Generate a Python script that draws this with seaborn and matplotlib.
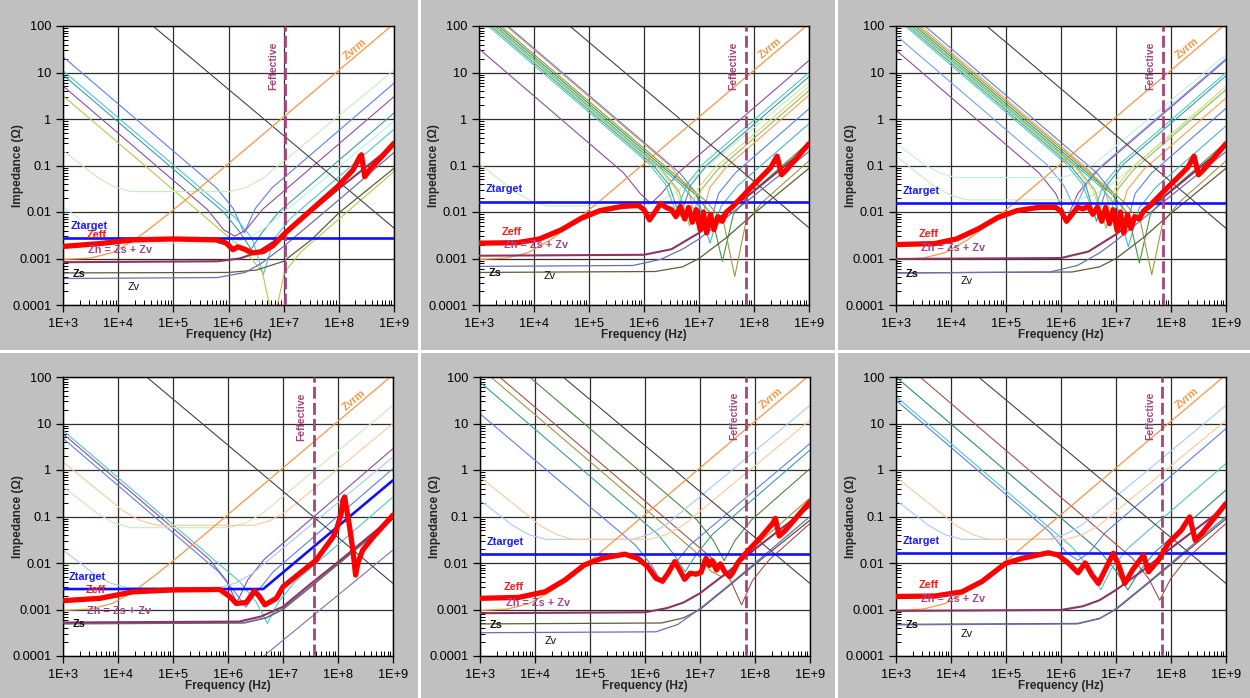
import numpy as np
import pandas as pd
import matplotlib
matplotlib.use("Agg")
import matplotlib.pyplot as plt
from matplotlib.ticker import FixedLocator, FixedFormatter, LogLocator, NullFormatter
from matplotlib.patches import Rectangle
import seaborn as sns

# ------------------------------------------------------------------ text
X_TICKS = [1e3, 1e4, 1e5, 1e6, 1e7, 1e8, 1e9]
X_LABELS = ["1E+3", "1E+4", "1E+5", "1E+6", "1E+7", "1E+8", "1E+9"]
Y_TICKS = [1e-4, 1e-3, 1e-2, 1e-1, 1, 10, 100]
Y_LABELS = ["0.0001", "0.001", "0.01", "0.1", "1", "10", "100"]
X_TITLE = "Frequency (Hz)"
Y_TITLE = "Impedance (\u03a9)"

# ------------------------------------------------------------------ data
# every curve: ([log10 f], [log10 |Z|])
ZVRM = ([3, 3.5, 3.9, 4.3, 4.7, 5.2, 9], [-3.02, -2.99, -2.87, -2.6, -2.24, -1.76, 2.05])

# ---- panel 1 (top left)
P1_TARGET = ([3, 9], [-2.56, -2.56])
P1_FEFF = 7.03
P1_BLACK = ([4.63, 9], [2.0, -2.345])
P1_ZEFF = ([3, 3.66, 4.27, 4.99, 5.78, 5.96, 6.08, 6.17, 6.29, 6.44, 6.63, 6.81, 7.03, 7.98, 8.26, 8.38, 8.41, 8.47, 8.56, 9],
           [-2.74, -2.68, -2.6, -2.58, -2.6, -2.67, -2.81, -2.75, -2.8, -2.88, -2.85, -2.72, -2.45, -1.45, -1.09, -0.81, -0.77, -1.24, -1.09, -0.52])
P1_ZH = ([3, 5.8, 6.2, 6.5, 6.8, 7.02, 8, 9], [-3.08, -3.06, -3.0, -2.88, -2.65, -2.47, -1.5, -0.55])
P1_ZS = ([3, 6.0, 6.5, 7.0, 7.5, 8, 9], [-3.31, -3.3, -3.25, -3.06, -2.6, -2.02, -1.06])
P1_ZV = ([3, 5.8, 6.3, 6.6, 7.0, 8, 9], [-3.43, -3.41, -3.3, -3.1, -2.74, -1.74, -0.72])
P1_CAPS = {
    "blue": ([3, 5.785, 6.085, 6.285, 6.485, 6.785, 9], [1.34, -1.485, -1.925, -2.45, -1.925, -1.485, 0.77]),
    "teal": ([3, 5.91, 6.21, 6.41, 6.61, 6.91, 9], [0.95, -2.0, -2.44, -2.8, -2.44, -2.0, 0.13]),
    "cyan": ([3, 6.13, 6.43, 6.63, 6.83, 7.13, 9], [1.04, -2.13, -2.57, -3.35, -2.57, -2.13, -0.22]),
    "purple": ([3, 5.615, 5.915, 6.115, 6.315, 6.615, 9], [0.71, -1.945, -2.385, -2.52, -2.385, -1.945, 0.48]),
    "ygreen": ([3, 6.315, 6.615, 6.815, 7.015, 7.315, 9], [0.5, -2.855, -3.295, -4.4, -3.295, -2.855, -1.13]),
    "lgreen": ([3, 3.63, 3.93, 4.23, 6.04, 6.34, 6.64, 9], [-0.68, -1.26, -1.46, -1.56, -1.56, -1.46, -1.26, 1.05]),
    "lcyan": ([3, 3.54, 3.84, 4.14, 6.03, 6.33, 6.63, 9], [-1.88, -2.37, -2.57, -2.67, -2.67, -2.57, -2.37, -0.05]),
}

# ---- panel 2 (top middle)
P2_TARGET = ([3, 9], [-1.78, -1.78])
P2_FEFF = 7.85
P2_BLACK = ([4.65, 9], [2.0, -2.34])
P2_ZEFF = ([3, 3.7, 4.1, 4.5, 4.85, 5.2, 5.6, 5.9, 6.0, 6.1, 6.2, 6.3, 6.4, 6.5, 6.58, 6.66, 6.74, 6.81, 6.88, 6.95,
            7.02, 7.08, 7.14, 7.21, 7.27, 7.34, 7.42, 7.5, 7.6, 7.9, 8.3, 8.42, 8.5, 8.6, 9],
           [-2.67, -2.66, -2.58, -2.38, -2.14, -1.97, -1.88, -1.86, -1.95, -2.17, -2.0, -1.82, -1.9, -1.95, -2.1, -1.88,
            -2.15, -1.9, -2.22, -1.95, -2.38, -2.0, -2.45, -2.05, -2.38, -2.1, -2.2, -2.0, -1.9, -1.53, -1.05, -0.8, -1.2,
            -1.08, -0.53])
P2_ZH = ([3, 6.0, 6.5, 7.0, 7.5, 8, 9], [-2.94, -2.92, -2.8, -2.45, -2.0, -1.55, -0.58])
P2_ZS = ([3, 6.2, 6.7, 7.0, 7.5, 8, 9], [-3.3, -3.28, -3.18, -3.0, -2.55, -2.03, -1.06])
P2_ZV = ([3, 5.8, 6.3, 6.7, 7.0, 8, 9], [-3.17, -3.15, -3.02, -2.8, -2.58, -1.65, -0.7])
P2_CAPS = {
    "purple": ([3, 5.625, 5.925, 6.125, 6.325, 6.625, 9], [1.51, -1.155, -1.595, -1.82, -1.595, -1.155, 1.26]),
    "lgreen": ([3, 3.66, 3.96, 4.26, 5.99, 6.29, 6.59, 9], [-0.96, -1.57, -1.77, -1.87, -1.87, -1.77, -1.57, 0.79]),
    "cyan": ([3, 6.085, 6.385, 6.585, 6.785, 7.085, 9], [2.17, -0.955, -1.395, -2.0, -1.395, -0.955, 1.0]),
    "teal": ([3, 6.155, 6.455, 6.655, 6.855, 7.155, 9], [2.22, -0.975, -1.415, -2.1, -1.415, -0.975, 0.91]),
    "olivegreen": ([3, 6.33, 6.63, 6.83, 7.03, 7.33, 9], [2.27, -1.1, -1.54, -2.3, -1.54, -1.1, 0.61]),
    "orange": ([3, 6.495, 6.795, 6.995, 7.195, 7.495, 9], [2.5, -1.035, -1.475, -2.4, -1.475, -1.035, 0.51]),
    "blue": ([3, 6.655, 6.955, 7.155, 7.355, 7.655, 9], [2.53, -1.165, -1.605, -2.45, -1.605, -1.165, 0.22]),
    "cyan2": ([3, 6.7, 7.0, 7.2, 7.4, 7.7, 9], [2.3, -1.44, -1.88, -2.67, -1.88, -1.44, -0.1]),
    "green": ([3, 6.925, 7.225, 7.425, 7.625, 7.925, 9], [2.35, -1.615, -2.055, -3.06, -2.055, -1.615, -0.5]),
    "olive": ([3, 7.15, 7.45, 7.65, 7.85, 8.15, 9], [2.4, -1.79, -2.23, -3.39, -2.23, -1.79, -0.9]),
    "yellow": ([3, 6.275, 6.575, 6.775, 6.975, 7.275, 9], [2.25, -1.065, -1.505, -2.2, -1.505, -1.065, 0.7]),
}

# ---- panel 3 (top right)
P3_TARGET = ([3, 9], [-1.81, -1.81])
P3_FEFF = 7.85
P3_BLACK = ([4.65, 9], [2.0, -2.35])
P3_ZEFF = ([3, 3.7, 4.1, 4.5, 4.85, 5.2, 5.6, 5.9, 6.0, 6.1, 6.2, 6.3, 6.4, 6.5, 6.58, 6.66, 6.74, 6.81, 6.88, 6.95,
            7.02, 7.08, 7.14, 7.21, 7.27, 7.34, 7.42, 7.5, 7.6, 7.9, 8.3, 8.42, 8.5, 8.6, 9],
           [-2.7, -2.68, -2.58, -2.36, -2.12, -1.97, -1.9, -1.9, -1.98, -2.2, -2.05, -1.9, -1.93, -1.88, -2.05, -1.9,
            -2.2, -1.9, -2.25, -1.95, -2.4, -2.0, -2.45, -2.05, -2.35, -2.1, -2.15, -1.98, -1.88, -1.52, -1.05, -0.8,
            -1.2, -1.08, -0.53])
P3_ZH = ([3, 6.0, 6.5, 7.0, 7.5, 8, 9], [-3.01, -2.99, -2.85, -2.48, -2.02, -1.55, -0.58])
P3_ZS = ([3, 6.2, 6.7, 7.0, 7.5, 8, 9], [-3.31, -3.29, -3.18, -3.0, -2.55, -2.03, -1.06])
P3_ZV = ([3, 5.8, 6.3, 6.7, 7.0, 8, 9], [-3.31, -3.29, -3.15, -2.88, -2.62, -1.65, -0.7])
P3_CAPS = {
    "purple": ([3, 5.605, 5.905, 6.105, 6.305, 6.605, 9], [1.48, -1.165, -1.605, -2.14, -1.605, -1.165, 1.27]),
    "blue2": ([3, 5.75, 6.05, 6.25, 6.45, 6.75, 9], [1.8, -0.99, -1.43, -1.92, -1.43, -0.99, 1.3]),
    "lcyan": ([3, 3.49, 3.79, 4.09, 6.01, 6.31, 6.61, 9], [-0.52, -0.96, -1.16, -1.26, -1.26, -1.16, -0.96, 1.38]),
    "lgreen": ([3, 3.69, 3.99, 4.29, 6.28, 6.58, 6.88, 9], [-0.8, -1.44, -1.64, -1.74, -1.74, -1.64, -1.44, 0.63]),
    "cyan": ([3, 6.085, 6.385, 6.585, 6.785, 7.085, 9], [2.17, -0.955, -1.395, -2.0, -1.395, -0.955, 1.0]),
    "teal": ([3, 6.145, 6.445, 6.645, 6.845, 7.145, 9], [2.22, -0.965, -1.405, -2.2, -1.405, -0.965, 0.93]),
    "olivegreen": ([3, 6.32, 6.62, 6.82, 7.02, 7.32, 9], [2.27, -1.09, -1.53, -2.35, -1.53, -1.09, 0.63]),
    "orange": ([3, 6.5, 6.8, 7.0, 7.2, 7.5, 9], [2.45, -1.09, -1.53, -2.4, -1.53, -1.09, 0.45]),
    "blue": ([3, 6.65, 6.95, 7.15, 7.35, 7.65, 9], [2.53, -1.16, -1.6, -2.45, -1.6, -1.16, 0.23]),
    "cyan2": ([3, 6.725, 7.025, 7.225, 7.425, 7.725, 9], [2.3, -1.465, -1.905, -2.75, -1.905, -1.465, -0.15]),
    "green": ([3, 6.925, 7.225, 7.425, 7.625, 7.925, 9], [2.35, -1.615, -2.055, -3.1, -2.055, -1.615, -0.5]),
    "olive": ([3, 7.15, 7.45, 7.65, 7.85, 8.15, 9], [2.4, -1.79, -2.23, -3.35, -2.23, -1.79, -0.9]),
    "yellow": ([3, 6.275, 6.575, 6.775, 6.975, 7.275, 9], [2.25, -1.065, -1.505, -2.2, -1.505, -1.065, 0.7]),
}

# ---- panel 4 (bottom left)
P4_TARGET = ([3, 6.64, 9], [-2.56, -2.56, -0.22])
P4_FEFF = 7.56
P4_BLACK = ([4.52, 9], [2.0, -2.44])
P4_ZEFF = ([3, 3.67, 4.27, 5, 5.85, 6.03, 6.15, 6.33, 6.48, 6.57, 6.67, 6.88, 7, 7.6, 7.91, 7.97, 8.06, 8.09, 8.12,
            8.15, 8.21, 8.27, 8.32, 8.36, 8.45, 8.64, 9],
           [-2.81, -2.76, -2.62, -2.58, -2.57, -2.72, -2.87, -2.85, -2.6, -2.72, -2.9, -2.76, -2.51, -1.94, -1.44,
            -1.29, -0.93, -0.65, -0.58, -0.79, -1.22, -1.72, -2.26, -2.0, -1.72, -1.44, -0.97])
P4_ZH = ([3, 6.2, 6.6, 7.0, 7.5, 8, 9], [-3.28, -3.26, -3.15, -2.94, -2.45, -1.98, -1.0])
P4_ZS = ([3, 6.3, 6.7, 7.0, 7.5, 8, 9], [-3.31, -3.29, -3.18, -3.0, -2.52, -2.03, -1.05])
P4_ZV = ([3, 6.3, 6.7, 7.0, 7.5, 8, 9], [-3.3, -3.28, -3.17, -2.98, -2.5, -2.0, -1.02])
P4_CAPS = {
    "cyan": ([3, 6.215, 6.515, 6.715, 6.915, 7.215, 9], [0.85, -2.405, -2.845, -3.3, -2.845, -2.405, -0.58]),
    "purple": ([3, 5.66, 5.96, 6.16, 6.36, 6.66, 9], [0.78, -1.92, -2.36, -2.85, -2.36, -1.92, 0.46]),
    "blue": ([3, 5.825, 6.125, 6.325, 6.525, 6.825, 9], [0.68, -2.185, -2.625, -2.95, -2.625, -2.185, 0.03]),
    "lblue": ([3, 3.56, 3.86, 4.16, 5.84, 6.14, 6.44, 9], [-1.72, -2.23, -2.43, -2.53, -2.53, -2.43, -2.23, 0.28]),
    "lgreen": ([3, 3.63, 3.93, 4.23, 6.02, 6.32, 6.62, 9], [-0.36, -0.94, -1.14, -1.24, -1.24, -1.14, -0.94, 1.39]),
    "lorange": ([3, 4.11, 4.41, 4.71, 6.46, 6.76, 7.06, 9], [0.17, -0.89, -1.09, -1.19, -1.19, -1.09, -0.89, 1.0]),
    "slate": ([6.6, 9], [-4.05, -1.72]),
}

# ---- panel 5 (bottom middle)
P5_TARGET = ([3, 9], [-1.81, -1.81])
P5_FEFF = 7.84
P5_BLACK = ([4.51, 9], [2.0, -2.44])
P5_ZEFF = ([3, 3.7, 4.18, 4.54, 4.9, 5.21, 5.63, 5.87, 6.05, 6.2, 6.32, 6.42, 6.54, 6.63, 6.72, 6.82, 6.93, 7.02, 7.11,
            7.17, 7.22, 7.3, 7.37, 7.45, 7.54, 7.6, 7.69, 7.84, 8.11, 8.32, 8.37, 8.44, 8.55, 9],
           [-2.76, -2.74, -2.62, -2.37, -2.04, -1.9, -1.81, -1.9, -2.08, -2.33, -2.39, -2.22, -1.97, -2.15, -2.35, -2.22,
            -2.24, -2.2, -1.9, -2.05, -1.95, -2.15, -2.02, -2.19, -2.29, -2.2, -1.99, -1.78, -1.44, -1.15, -1.04, -1.42,
            -1.3, -0.68])
P5_ZH = ([3, 6.0, 6.4, 6.7, 7.0, 7.5, 8, 9], [-3.08, -3.06, -2.97, -2.85, -2.65, -2.2, -1.7, -0.78])
P5_ZS = ([3, 6.3, 6.7, 7.0, 7.5, 8, 9], [-3.31, -3.29, -3.18, -3.0, -2.52, -2.03, -1.08])
P5_ZV = ([3, 6.2, 6.6, 7.0, 7.5, 8, 9], [-3.5, -3.48, -3.32, -2.98, -2.5, -2.0, -1.0])
P5_CAPS = {
    "teal": ([3, 6.23, 6.53, 6.73, 6.93, 7.23, 9], [1.89, -1.38, -1.82, -2.19, -1.82, -1.38, 0.43]),
    "blue": ([3, 5.82, 6.12, 6.32, 6.52, 6.82, 9], [1.21, -1.61, -2.05, -2.45, -2.05, -1.61, 0.57]),
    "brown": ([3, 7.255, 7.555, 7.755, 7.955, 8.255, 9], [2.36, -1.935, -2.375, -2.9, -2.375, -1.935, -1.15]),
    "dgreen": ([3, 6.94, 7.24, 7.44, 7.64, 7.94, 9], [2.91, -1.07, -1.51, -1.95, -1.51, -1.07, 0.03]),
    "olive": ([3, 6.9, 7.2, 7.4, 7.6, 7.9, 9], [2.2, -1.74, -2.18, -2.3, -2.18, -1.74, -0.6]),
    "lblue": ([3, 3.59, 3.89, 4.19, 5.77, 6.07, 6.37, 9], [-0.65, -1.19, -1.39, -1.49, -1.49, -1.39, -1.19, 1.39]),
    "lorange": ([3, 4.09, 4.39, 4.69, 6.09, 6.39, 6.69, 9], [-0.15, -1.19, -1.39, -1.49, -1.49, -1.39, -1.19, 1.07]),
}

# ---- panel 6 (bottom right)
P6_TARGET = ([3, 9], [-1.79, -1.79])
P6_FEFF = 7.84
P6_BLACK = ([4.5, 9], [2.0, -2.44])
P6_ZEFF = ([3, 3.71, 4.2, 4.56, 4.99, 5.29, 5.77, 5.95, 6.14, 6.31, 6.44, 6.56, 6.68, 6.83, 6.95, 7.05, 7.16, 7.3, 7.5,
            7.59, 7.77, 7.95, 8.19, 8.34, 8.44, 8.55, 9],
           [-2.72, -2.71, -2.62, -2.4, -2.01, -1.9, -1.78, -1.83, -2.01, -2.21, -2.0, -2.25, -2.44, -2.08, -1.79, -2.05,
            -2.44, -2.15, -1.83, -2.19, -1.94, -1.58, -1.29, -1.01, -1.51, -1.38, -0.72])
P6_ZH = ([3, 6.0, 6.4, 6.7, 7.0, 7.5, 8, 9], [-3.03, -3.01, -2.93, -2.8, -2.58, -2.15, -1.68, -0.78])
P6_ZS = ([3, 6.3, 6.7, 7.0, 7.5, 8, 9], [-3.32, -3.3, -3.19, -3.0, -2.52, -2.03, -1.05])
P6_ZV = ([3, 6.3, 6.7, 7.0, 7.5, 8, 9], [-3.33, -3.31, -3.2, -2.98, -2.5, -2.0, -1.0])
P6_CAPS = {
    "tealdark": ([3, 6.715, 7.015, 7.215, 7.415, 7.715, 9], [2.0, -1.755, -2.195, -2.58, -2.195, -1.755, -0.43]),
    "cyan": ([3, 6.22, 6.52, 6.72, 6.92, 7.22, 9], [1.58, -1.68, -2.12, -2.58, -2.12, -1.68, 0.14]),
    "blue": ([3, 5.805, 6.105, 6.305, 6.505, 6.805, 9], [1.5, -1.345, -1.785, -1.94, -1.785, -1.345, 0.89]),
    "brown": ([3, 7.295, 7.595, 7.795, 7.995, 8.295, 9], [2.44, -1.895, -2.335, -2.8, -2.335, -1.895, -1.15]),
    "lblue": ([3, 3.59, 3.89, 4.19, 5.77, 6.07, 6.37, 9], [-0.65, -1.19, -1.39, -1.49, -1.49, -1.39, -1.19, 1.39]),
    "lorange": ([3, 4.09, 4.39, 4.69, 6.09, 6.39, 6.69, 9], [-0.15, -1.19, -1.39, -1.49, -1.49, -1.39, -1.19, 1.07]),
}

# ------------------------------------------------------------------ layout / styles
CAP_COLORS = {
    "blue": "#5b80ee", "blue2": "#7b9ef2", "cyan": "#4ec8cc", "cyan2": "#45b6c8", "teal": "#3a9e9e",
    "tealdark": "#2e8a80", "purple": "#8e4c9e", "ygreen": "#b4c84a", "lgreen": "#c6ecbe", "lcyan": "#bdeeee",
    "olivegreen": "#9bbb59", "orange": "#f5a052", "green": "#3f9a3f", "olive": "#9a9a40", "yellow": "#cfdc78",
    "lblue": "#a9c8f2", "lorange": "#fbc89a", "slate": "#7474b8", "brown": "#a3524c", "dgreen": "#4a8a3a",
}
AX_RECTS = [  # left, bottom, width, height in figure fraction
    (63 / 1250, 1 - 305 / 698, 331 / 1250, 279 / 698),
    (479 / 1250, 1 - 305 / 698, 330 / 1250, 279 / 698),
    (896 / 1250, 1 - 305 / 698, 330 / 1250, 279 / 698),
    (63 / 1250, 1 - 656 / 698, 330 / 1250, 279 / 698),
    (480 / 1250, 1 - 656 / 698, 330 / 1250, 279 / 698),
    (896 / 1250, 1 - 656 / 698, 330 / 1250, 279 / 698),
]
# label anchors in (log10 f, log10 Z)
LABEL_POS = [
    {"Ztarget": (3.133, -2.31), "Zeff": (3.435, -2.495), "Zh": (3.453, -2.825), "Zs": (3.18, -3.326),
     "Zv": (4.178, -3.612), "Zvrm": (8.287, 1.5), "Feff": (6.807, 1.148)},
    {"Ztarget": (3.121, -1.514), "Zeff": (3.41, -2.42), "Zh": (3.46, -2.707), "Zs": (3.18, -3.314),
     "Zv": (4.168, -3.37), "Zvrm": (8.285, 1.53), "Feff": (7.619, 1.15)},
    {"Ztarget": (3.121, -1.55), "Zeff": (3.41, -2.467), "Zh": (3.46, -2.775), "Zs": (3.18, -3.326),
     "Zv": (4.168, -3.49), "Zvrm": (8.285, 1.52), "Feff": (7.619, 1.148)},
    {"Ztarget": (3.109, -2.309), "Zeff": (3.412, -2.581), "Zh": (3.436, -3.032), "Zs": (3.17, -3.318),
     "Zvrm": (8.285, 1.513), "Feff": (7.333, 1.141)},
    {"Ztarget": (3.121, -1.55), "Zeff": (3.423, -2.51), "Zh": (3.466, -2.853), "Zs": (3.181, -3.326),
     "Zv": (4.168, -3.67), "Zvrm": (8.281, 1.535), "Feff": (7.616, 1.155)},
    {"Ztarget": (3.121, -1.536), "Zeff": (3.41, -2.481), "Zh": (3.46, -2.782), "Zs": (3.18, -3.326),
     "Zv": (4.168, -3.526), "Zvrm": (8.285, 1.535), "Feff": (7.619, 1.155)},
]

PANELS = [
    dict(target=P1_TARGET, feff=P1_FEFF, black=P1_BLACK, zeff=P1_ZEFF, zh=P1_ZH, zs=P1_ZS, zv=P1_ZV, caps=P1_CAPS),
    dict(target=P2_TARGET, feff=P2_FEFF, black=P2_BLACK, zeff=P2_ZEFF, zh=P2_ZH, zs=P2_ZS, zv=P2_ZV, caps=P2_CAPS),
    dict(target=P3_TARGET, feff=P3_FEFF, black=P3_BLACK, zeff=P3_ZEFF, zh=P3_ZH, zs=P3_ZS, zv=P3_ZV, caps=P3_CAPS),
    dict(target=P4_TARGET, feff=P4_FEFF, black=P4_BLACK, zeff=P4_ZEFF, zh=P4_ZH, zs=P4_ZS, zv=P4_ZV, caps=P4_CAPS),
    dict(target=P5_TARGET, feff=P5_FEFF, black=P5_BLACK, zeff=P5_ZEFF, zh=P5_ZH, zs=P5_ZS, zv=P5_ZV, caps=P5_CAPS),
    dict(target=P6_TARGET, feff=P6_FEFF, black=P6_BLACK, zeff=P6_ZEFF, zh=P6_ZH, zs=P6_ZS, zv=P6_ZV, caps=P6_CAPS),
]

# ------------------------------------------------------------------ drawing
sns.set_theme(style="white")
plt.rcParams["font.family"] = ["Liberation Sans", "DejaVu Sans"]
plt.rcParams["axes.unicode_minus"] = False


def draw(ax, curve, color, lw, z, **kw):
    df = pd.DataFrame({"f": 10.0 ** np.asarray(curve[0], float),
                       "z": 10.0 ** np.asarray(curve[1], float)})
    sns.lineplot(data=df, x="f", y="z", ax=ax, color=color, linewidth=lw,
                 estimator=None, sort=False, legend=False, zorder=z, **kw)


fig = plt.figure(figsize=(12.5, 6.98), dpi=100, facecolor="#c0c0c0")
for x0 in (418, 835):
    fig.add_artist(Rectangle((x0 / 1250, 0), 3 / 1250, 1, transform=fig.transFigure,
                             facecolor="white", edgecolor="none", zorder=0))
fig.add_artist(Rectangle((0, 1 - 353 / 698), 1, 3 / 698, transform=fig.transFigure,
                         facecolor="white", edgecolor="none", zorder=0))

for rect, pdata, lab in zip(AX_RECTS, PANELS, LABEL_POS):
    ax = fig.add_axes(rect)
    ax.set_facecolor("white")
    ax.set_xscale("log")
    ax.set_yscale("log")

    for name, c in pdata["caps"].items():
        draw(ax, c, CAP_COLORS[name], 0.8, 2)
    draw(ax, pdata["black"], "#444444", 0.8, 2.2)
    draw(ax, ZVRM, "#f79646", 0.9, 2.3)
    draw(ax, pdata["zs"], "#5e5c3c", 0.9, 2.4)
    draw(ax, pdata["zv"], "#6e6eb4", 0.9, 2.4)
    draw(ax, pdata["zh"], "#8e3462", 1.5, 2.6)
    draw(ax, pdata["target"], "#1010ff", 1.9, 3.0)
    ax.axvline(10 ** pdata["feff"], color="#a3467a", lw=2.0, dashes=(4.3, 1.5), zorder=3.2)
    draw(ax, pdata["zeff"], "#ff0000", 3.8, 4.0, solid_joinstyle="round", solid_capstyle="round")

    ax.set_xlim(1e3, 1e9)
    ax.set_ylim(1e-4, 1e2)
    ax.xaxis.set_major_locator(FixedLocator(X_TICKS))
    ax.xaxis.set_major_formatter(FixedFormatter(X_LABELS))
    ax.yaxis.set_major_locator(FixedLocator(Y_TICKS))
    ax.yaxis.set_major_formatter(FixedFormatter(Y_LABELS))
    ax.xaxis.set_minor_locator(LogLocator(base=10, subs=np.arange(2, 10), numticks=20))
    ax.yaxis.set_minor_locator(LogLocator(base=10, subs=np.arange(2, 10), numticks=20))
    ax.xaxis.set_minor_formatter(NullFormatter())
    ax.yaxis.set_minor_formatter(NullFormatter())
    ax.tick_params(which="major", direction="out", length=5, width=0.9, labelsize=9.2,
                   colors="black", left=True, bottom=True)
    ax.tick_params(axis="x", which="major", pad=4.5)
    ax.tick_params(axis="y", which="major", pad=3.2)
    ax.tick_params(which="minor", direction="in", length=3.5, width=0.7, color="black",
                   left=True, bottom=True)
    ax.grid(True, which="major", color="#2e2e2e", lw=0.9)
    ax.grid(False, which="minor")
    ax.set_axisbelow(True)
    for s in ax.spines.values():
        s.set_visible(True)
        s.set_color("black")
        s.set_linewidth(1.0)

    ax.set_xlabel(X_TITLE, fontsize=8.6, fontweight="bold", va="center")
    ax.set_ylabel(Y_TITLE, fontsize=8.6, fontweight="bold", va="center")
    ax.xaxis.set_label_coords(0.5, -0.1075)
    ax.yaxis.set_label_coords(-0.135, 0.5)

    def T(key, text, color, weight="bold", size=7.8, **kw):
        if key in lab:
            lf, lz = lab[key]
            ax.text(10 ** lf, 10 ** lz, text, color=color, fontsize=size, fontweight=weight,
                    va="center", zorder=4.5, **kw)

    T("Ztarget", "Ztarget", "#1a1aff", ha="left")
    T("Zeff", "Zeff", "#ff1a1a", ha="left")
    T("Zh", "Zh = Zs + Zv", "#a0468c", ha="left")
    T("Zs", "Zs", "#111111", ha="left")
    T("Zv", "Zv", "#111111", weight="normal", ha="left")
    T("Zvrm", "Zvrm", "#f79646", ha="center", rotation=40, rotation_mode="anchor")
    T("Feff", "Feffective", "#a3467a", ha="center", rotation=90, size=7.5)

fig.savefig("out.png", dpi=100, facecolor=fig.get_facecolor())
